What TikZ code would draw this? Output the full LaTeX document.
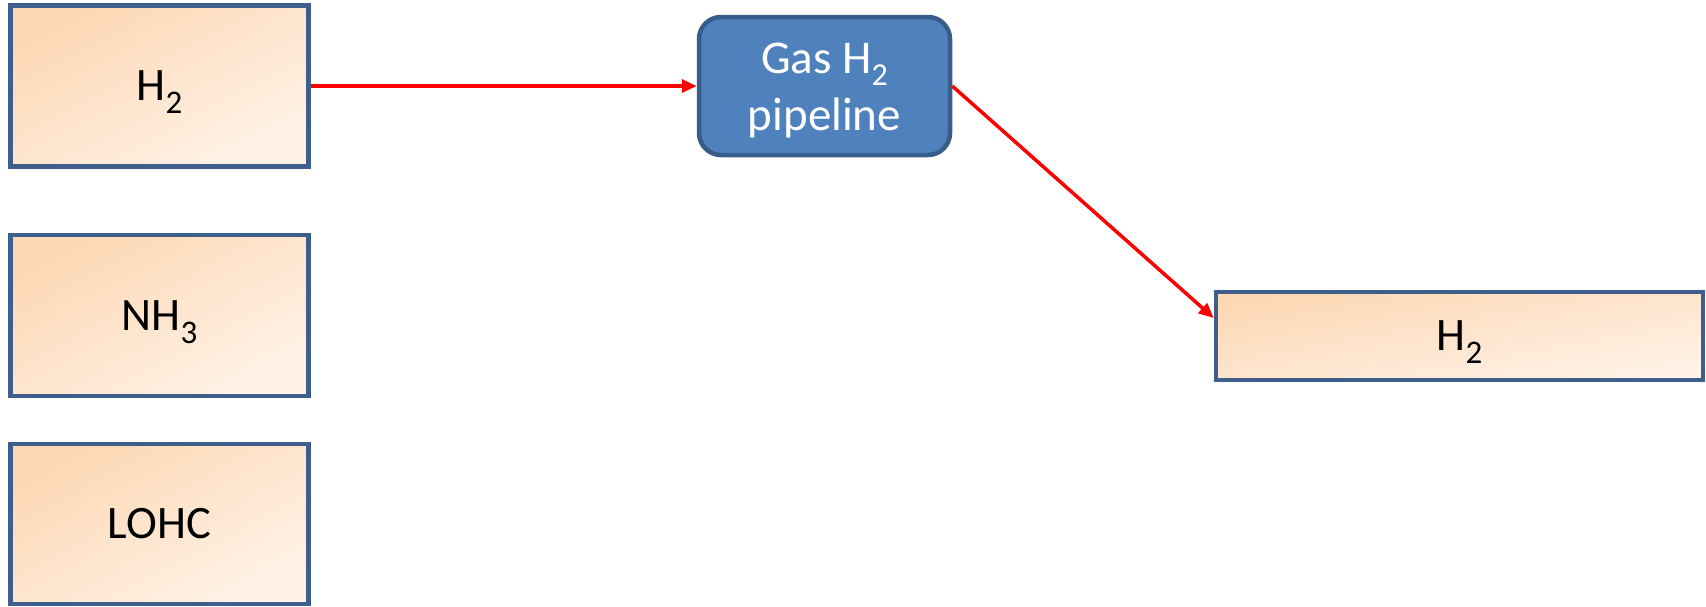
\documentclass[tikz,border=0pt]{standalone}
\usepackage{fontspec}
\setmainfont{Carlito}
\usetikzlibrary{arrows.meta}
\definecolor{boxedge}{HTML}{3E5F8C}
\definecolor{peachA}{HTML}{FDD8B4}
\definecolor{peachB}{HTML}{FFF2E7}
\definecolor{pipefill}{HTML}{4F81BD}
\definecolor{pipeedge}{HTML}{385D8A}
\newcommand{\subtwo}[1]{\raisebox{-13pt}[0pt][0pt]{\fontsize{33}{33}\selectfont #1}}
\tikzset{
  carrier/.style={draw=boxedge, line width=4.5pt, top color=peachA, bottom color=peachB, shading angle=28,
    minimum width=298pt, minimum height=161pt, inner sep=0pt, font=\fontsize{46.5}{50}\selectfont, text=black},
  pipebox/.style={draw=pipeedge, line width=4.5pt, fill=pipefill, rounded corners=22pt,
    minimum width=251pt, minimum height=138pt, inner sep=0pt},
  pipetext/.style={align=center, text=white, inner sep=0pt, font=\fontsize{47}{57}\selectfont},
  flow/.style={draw=red, line width=3.5pt, -{Triangle[length=15pt,width=13pt]}}
}
\begin{document}
\begin{tikzpicture}[x=1pt,y=-1pt]
\useasboundingbox (0,0) rectangle (1706,606);
\node[carrier] (h2a) at (159.5,86) {H\subtwo{2}};
\node[carrier] (nh3) at (159.5,315.5) {NH\subtwo{3}};
\node[carrier, minimum height=160pt] (lohc) at (159.5,524) {LOHC};
\node[pipebox] (pipe) at (824.5,86) {};
\node[pipetext] (pipelabel) at ([yshift=-5pt]pipe.center) {Gas H\raisebox{-12pt}[0pt][0pt]{\fontsize{32}{32}\selectfont 2}\\pipeline};
\node[carrier, minimum width=487pt, minimum height=88pt, shading angle=10] (h2b) at (1459.5,336) {H\subtwo{2}};
\draw[flow] (h2a.east) -- (pipe.west);
\draw[flow] (pipe.east) -- ([yshift=18pt]h2b.west);
\end{tikzpicture}
\end{document}
